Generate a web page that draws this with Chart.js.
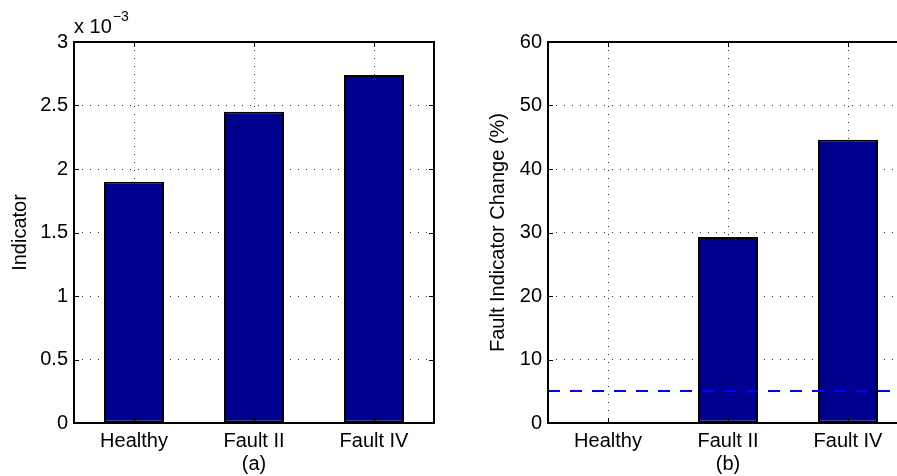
<!DOCTYPE html>
<html>
<head>
<meta charset="utf-8">
<script src="https://cdn.jsdelivr.net/npm/chart.js@4.4.0/dist/chart.umd.min.js"></script>
<style>
  html, body { margin: 0; padding: 0; background: #fff; overflow: hidden; }
  #wrap { position: relative; width: 897px; height: 476px; overflow: hidden; }
  canvas { position: absolute; top: 0; }
</style>
</head>
<body>
<div id="wrap">
  <canvas id="chartA" width="450" height="476" style="left:0"></canvas>
  <canvas id="chartB" width="450" height="476" style="left:474px"></canvas>
</div>
<script>
// data
const categories = ['Healthy', 'Fault II', 'Fault IV'];
const indicatorValues = [0.0019, 0.00245, 0.00274];
const indicatorTickLabels = ['0', '0.5', '1', '1.5', '2', '2.5', '3'];
const changeValues = [0, 29.3, 44.6];
const changeTickLabels = ['0', '10', '20', '30', '40', '50', '60'];
const changeThreshold = 5;

Chart.defaults.font.family = '"Liberation Sans", Arial, Helvetica, sans-serif';
Chart.defaults.font.size = 20;
Chart.defaults.color = '#000';

// matlab look: black frame, inward ticks, optional exponent / threshold line
const matlabFrame = {
  id: 'matlabFrame',
  afterDatasetsDraw(chart, args, opts) {
    const { ctx, chartArea: a, scales: { x, y } } = chart;
    ctx.save();
    if (opts.threshold != null) {
      const ty = Math.round(y.getPixelForValue(opts.threshold));
      ctx.strokeStyle = '#0000ff';
      ctx.lineWidth = 2;
      ctx.setLineDash([12, 10]);
      ctx.beginPath();
      ctx.moveTo(a.left, ty);
      ctx.lineTo(a.right, ty);
      ctx.stroke();
      ctx.setLineDash([]);
    }
    ctx.strokeStyle = '#000';
    ctx.lineWidth = 2;
    ctx.beginPath();
    ctx.moveTo(a.right + 1, a.top);
    ctx.lineTo(a.left, a.top);
    ctx.lineTo(a.left, a.bottom);
    ctx.lineTo(a.right + 1, a.bottom);
    if (!opts.openRight) {
      ctx.moveTo(a.right, a.top);
      ctx.lineTo(a.right, a.bottom);
    }
    ctx.stroke();
    ctx.lineWidth = 1;
    ctx.beginPath();
    x.ticks.forEach((t, i) => {
      const px = Math.round(x.getPixelForTick(i)) + 0.5;
      ctx.moveTo(px, a.bottom); ctx.lineTo(px, a.bottom - 5);
      ctx.moveTo(px, a.top); ctx.lineTo(px, a.top + 5);
    });
    y.ticks.forEach((t, i) => {
      const py = Math.round(y.getPixelForTick(i)) + 0.5;
      ctx.moveTo(a.left, py); ctx.lineTo(a.left + 5, py);
      ctx.moveTo(a.right, py); ctx.lineTo(a.right - 5, py);
    });
    ctx.stroke();
    if (opts.exponent) {
      ctx.fillStyle = '#000';
      ctx.textBaseline = 'alphabetic';
      ctx.textAlign = 'left';
      ctx.font = '20px "Liberation Sans", Arial, sans-serif';
      ctx.fillText('x 10', a.left, a.top - 9);
      const w = ctx.measureText('x 10').width;
      ctx.font = '14px "Liberation Sans", Arial, sans-serif';
      ctx.fillText(opts.exponent, a.left + w + 1, a.top - 21);
    }
    ctx.restore();
  }
};

function makePanel(id, values, yMax, yStep, tickLabels, yTitle, yTitlePad, caption, extra) {
  return new Chart(document.getElementById(id), {
    type: 'bar',
    data: {
      labels: categories,
      datasets: [{
        data: values,
        backgroundColor: '#00008f',
        borderColor: '#000',
        borderWidth: 2,
        borderSkipped: false,
        barPercentage: 0.5,
        categoryPercentage: 1.0
      }]
    },
    plugins: [matlabFrame],
    options: {
      responsive: false,
      animation: false,
      layout: { padding: { top: 42, right: 16, left: 0, bottom: 0 } },
      plugins: {
        legend: { display: false },
        tooltip: { enabled: false },
        matlabFrame: extra
      },
      scales: {
        x: {
          offset: true,
          grid: { offset: false, drawTicks: false, color: '#333', lineWidth: 1 },
          border: { display: false, dash: [1, 7] },
          ticks: { padding: 6, maxRotation: 0 },
          title: { display: true, text: caption, padding: { top: 0, bottom: 0 } },
          afterFit(s) { s.height = 53; }
        },
        y: {
          min: 0,
          max: yMax,
          grid: { drawTicks: false, color: '#333', lineWidth: 1 },
          border: { display: false, dash: [1, 7] },
          ticks: {
            stepSize: yStep,
            padding: 6,
            callback: (v, i) => tickLabels[i]
          },
          title: { display: true, text: yTitle, padding: { top: yTitlePad, bottom: 0 } },
          afterFit(s) { s.width = 74; }
        }
      }
    }
  });
}

makePanel('chartA', indicatorValues, 0.003, 0.0005, indicatorTickLabels,
  'Indicator', 8, '(a)', { exponent: '\u22123' });
makePanel('chartB', changeValues, 60, 10, changeTickLabels,
  'Fault Indicator Change (%)', 12, '(b)', { threshold: changeThreshold, openRight: true });
</script>
</body>
</html>
